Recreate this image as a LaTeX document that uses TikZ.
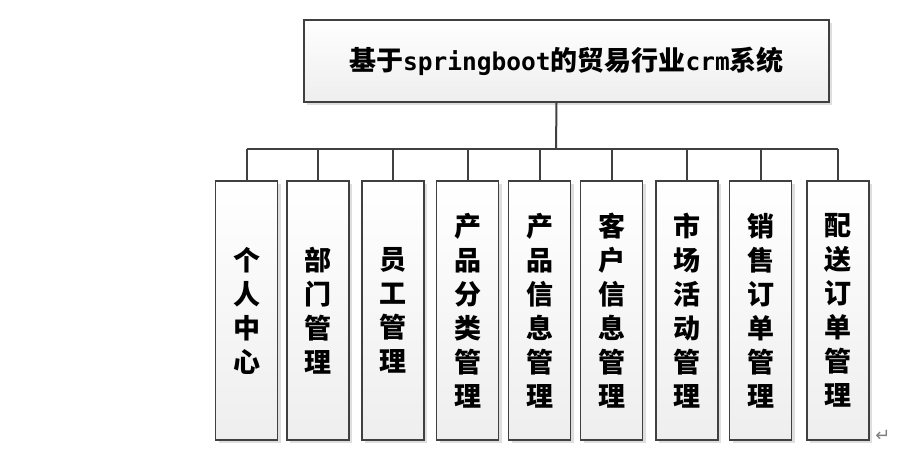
\documentclass[tikz,border=0pt]{standalone}
\usepackage{fontspec}
\usepackage{xcolor}
\usepackage{tikz}
\usetikzlibrary{shadows,positioning}
\newfontfamily\cjk{Noto Sans CJK SC}
\newfontfamily\latmono{DejaVu Sans Mono}
\newfontfamily\symfont{DejaVu Sans}
\definecolor{edgegray}{HTML}{404040}
\definecolor{boxbottom}{HTML}{EEEEEE}
\definecolor{shadowgray}{HTML}{DEDEDE}

\begin{document}
\begin{tikzpicture}[x=1pt, y=-1pt,
  box/.style={rectangle, draw=edgegray, line width=1.2pt, top color=white, bottom color=boxbottom,
    drop shadow={shadow xshift=3pt, shadow yshift=-3pt, fill=shadowgray, opacity=1}, inner sep=0pt},
  titlebox/.style={box, minimum width=525pt, minimum height=82pt, font=\cjk\bfseries\fontsize{27}{30}\selectfont},
  leaf/.style={box, minimum width=62pt, minimum height=259pt, align=center, font=\cjk\bfseries\fontsize{27}{34}\selectfont},
  line/.style={draw=edgegray, line width=2pt}]
  \useasboundingbox (0,0) rectangle (900,452);

  % Nodes
  \node [titlebox] (title) at (566.5,61) {基于{\latmono\fontsize{24.5}{30}\selectfont springboot}的贸易行业{\latmono\fontsize{24.5}{30}\selectfont crm}系统};
  \node [leaf] (user) at (246.5,310.5) {个\\人\\中\\心};
  \node [leaf] (dept) at (318,310.5) {部\\门\\管\\理};
  \node [leaf] (staff) at (393,310.5) {员\\工\\管\\理};
  \node [leaf] (category) at (467.5,310.5) {产\\品\\分\\类\\管\\理};
  \node [leaf] (product) at (539.5,310.5) {产\\品\\信\\息\\管\\理};
  \node [leaf] (customer) at (611.5,310.5) {客\\户\\信\\息\\管\\理};
  \node [leaf] (market) at (687,310.5) {市\\场\\活\\动\\管\\理};
  \node [leaf] (sales) at (760.5,310.5) {销\\售\\订\\单\\管\\理};
  \node [leaf] (delivery) at (838,310.5) {配\\送\\订\\单\\管\\理};
  \node [text=gray, font=\symfont\fontsize{18}{18}\selectfont] (pmark) at (883,436) {↵};
  \coordinate (bus) at (556,149);

  % Edges
  \path [line] ([xshift=-10]title.south) -- (bus);
  \path [line] (user.north |- bus) -- (delivery.north |- bus);
  \foreach \leafname in {user,dept,staff,category,product,customer,market,sales,delivery}
    \path [line] (\leafname.north |- bus) -- (\leafname.north);

\end{tikzpicture}
\end{document}
